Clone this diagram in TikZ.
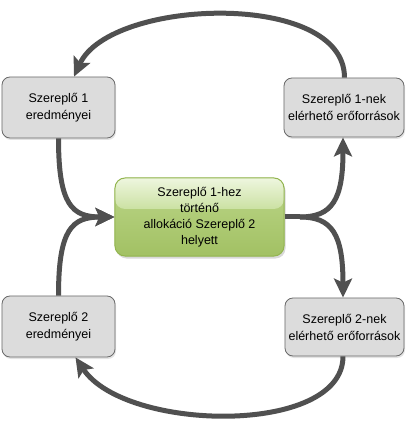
\documentclass[tikz,border=0pt]{standalone}
\usepackage{fontspec}
\setmainfont{Liberation Sans}
\usetikzlibrary{arrows.meta,shadows}
\definecolor{arrowgray}{HTML}{505050}
\definecolor{boxfill}{HTML}{DCDCDC}
\definecolor{boxdraw}{HTML}{6A6A6A}
\definecolor{glosstop}{HTML}{EEF6DF}
\definecolor{glossbot}{HTML}{CBE1A2}
\definecolor{lowtop}{HTML}{BCD68A}
\definecolor{lowbot}{HTML}{A2C163}
\definecolor{gdraw}{HTML}{93B550}
\tikzset{
  graybox/.style={draw=boxdraw, fill=boxfill, line width=0.8bp, rounded corners=8bp,
    minimum width=114bp, minimum height=60bp, align=center, inner sep=2bp,
    font=\fontsize{12.5bp}{17bp}\selectfont,
    drop shadow={shadow xshift=1bp, shadow yshift=-2bp, opacity=0.22}},
  greenbox/.style={draw=gdraw, line width=1bp, rounded corners=10bp, fill=lowbot,
    minimum width=169bp, minimum height=78bp, align=center, inner sep=2bp,
    font=\fontsize{12.5bp}{16bp}\selectfont,
    drop shadow={shadow xshift=1.5bp, shadow yshift=-2.5bp, opacity=0.3},
    path picture={
      \shade[top color=lowtop, bottom color=lowbot]
        (path picture bounding box.south west) rectangle (path picture bounding box.north east);
      \shade[top color=glosstop, bottom color=glossbot]
        ([yshift=-31bp]path picture bounding box.north west) rectangle (path picture bounding box.north east);
    }},
  flow/.style={draw=arrowgray, line width=5bp,
    -{Stealth[length=19bp, width=18bp, inset=4bp]}}
}
\begin{document}
\begin{tikzpicture}[x=1bp,y=1bp]
\useasboundingbox (0,0) rectangle (407,430);
\node[graybox, minimum width=113bp, minimum height=61bp] (tl) at (58.5,322.5) {Szereplő 1\\eredményei};
\node[graybox, minimum width=120bp, minimum height=59bp] (tr) at (344,322.5) {Szereplő 1-nek\\elérhető erőforrások};
\node[graybox, minimum width=113bp, minimum height=61bp] (bl) at (58.5,103.5) {Szereplő 2\\eredményei};
\node[graybox, minimum width=119bp, minimum height=58bp] (br) at (344.5,103) {Szereplő 2-nek\\elérhető erőforrások};
\node[greenbox] (c) at (199.5,213) {Szereplő 1-hez\\történő\\allokáció Szereplő 2\\helyett};
% top loop
\draw[flow] ([xshift=0.5bp]tr.north) .. controls (344.5,440) and (110,432) .. ([xshift=15.5bp]tl.north);
% bottom loop
\draw[flow] ([xshift=-1.5bp]br.south) .. controls (343,-6) and (125,-2) .. ([xshift=17bp]bl.south);
% left merge
\draw[flow] (tl.south) .. controls (58.5,225) and (72,213) .. (c.west);
\draw[flow] (bl.north) .. controls (58.5,201) and (72,213) .. (c.west);
% right split
\coordinate (split) at (300,213);
\draw[draw=arrowgray, line width=5bp] (c.east) -- (split);
\draw[flow] (split) .. controls (332,213) and (343,230) .. ([xshift=-1bp]tr.south);
\draw[flow] (split) .. controls (332,213) and (343,196) .. ([xshift=-1.5bp]br.north);
\end{tikzpicture}
\end{document}
